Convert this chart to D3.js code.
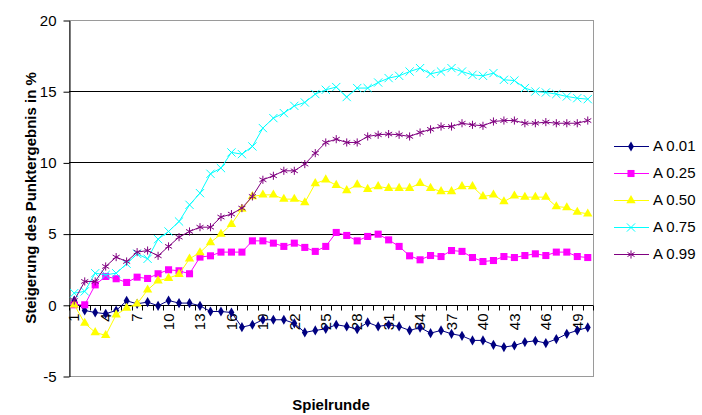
<!DOCTYPE html>
<html lang="de">
<head>
<meta charset="UTF-8">
<title>Spielrunde</title>
<script src="https://d3js.org/d3.v7.min.js"></script>
<style>
  body { margin: 0; background: #fff; }
  text { font-family: Arial, "Liberation Sans", sans-serif; }
</style>
</head>
<body>
<svg width="702" height="415"></svg>
<script>

// Spielrunden 1..50
var runden = d3.range(1, 51);
var xLabels = runden.filter(function (r) { return (r - 1) % 3 === 0; });
var yTicks = [-5, 0, 5, 10, 15, 20];

var namen = ["A 0.01", "A 0.25", "A 0.50", "A 0.75", "A 0.99"];

var a001 = [0.3, -0.4, -0.54, -0.63, -0.4, 0.28, 0.07, 0.19, -0.07, 0.3,
            0.12, 0.12, -0.07, -0.47, -0.47, -0.54, -1.57, -1.4, -1.05, -1.05,
            -1.05, -1.3, -1.94, -1.8, -1.69, -1.4, -1.52, -1.71, -1.24, -1.52,
            -1.4, -1.52, -1.8, -1.6, -1.99, -1.8, -2.04, -2.18, -2.5, -2.5,
            -2.81, -2.97, -2.86, -2.62, -2.53, -2.69, -2.41, -2.04, -1.8, -1.59];
var a025 = [0, 0, 1.4, 1.99, 1.83, 1.57, 1.94, 1.85, 2.18, 2.46,
            2.39, 2.18, 3.35, 3.44, 3.7, 3.7, 3.7, 4.49, 4.49, 4.33,
            4.1, 4.33, 4.03, 3.75, 4.1, 5.08, 4.87, 4.49, 4.8, 4.96,
            4.56, 4.1, 3.44, 3.16, 3.46, 3.39, 3.81, 3.75, 3.32, 3.04,
            3.11, 3.39, 3.32, 3.46, 3.58, 3.46, 3.7, 3.7, 3.39, 3.32];
var a050 = [0, -1.29, -1.94, -2.15, -0.7, -0.23, 0.07, 1.05, 1.69, 1.87,
            2.15, 3.23, 3.67, 4.38, 4.96, 5.66, 6.72, 7.61, 7.72, 7.72,
            7.42, 7.42, 7.18, 8.52, 8.78, 8.4, 8.03, 8.43, 8.12, 8.31,
            8.19, 8.19, 8.19, 8.54, 8.19, 7.96, 7.96, 8.31, 8.31, 7.61,
            7.72, 7.25, 7.65, 7.56, 7.56, 7.56, 6.9, 6.83, 6.51, 6.39];
var a075 = [0.82, 0.94, 2.22, 2.1, 2.22, 2.88, 3.58, 3.23, 4.61, 5.15,
            5.85, 7.02, 7.84, 9.2, 9.6, 10.7, 10.58, 11.12, 12.41, 13.11,
            13.46, 13.97, 14.21, 14.8, 15.1, 15.29, 14.59, 15.22, 15.22, 15.61,
            15.92, 16.08, 16.38, 16.62, 16.22, 16.38, 16.62, 16.38, 16.15, 16.08,
            16.27, 15.8, 15.75, 15.22, 14.98, 14.91, 14.8, 14.63, 14.51, 14.44];
var a099 = [0.3, 1.64, 1.64, 2.69, 3.35, 3.04, 3.7, 3.81, 3.44, 4.1,
            4.75, 5.15, 5.45, 5.45, 6.16, 6.37, 6.79, 7.61, 8.78, 9.06,
            9.41, 9.41, 9.88, 10.65, 11.4, 11.63, 11.4, 11.4, 11.82, 11.94,
            11.99, 11.94, 11.82, 12.1, 12.32, 12.52, 12.52, 12.75, 12.64, 12.57,
            12.87, 12.94, 12.94, 12.75, 12.75, 12.83, 12.75, 12.75, 12.75, 12.94];

var reihen = [a001, a025, a050, a075, a099];
var farben = ["#000080", "#ff00ff", "#ffff00", "#00ffff", "#800080"];

var svg = d3.select('svg');
var pLeft = 69, pRight = 593, pTop = 20, pBottom = 376;

var x = d3.scaleBand().domain(runden).range([pLeft, pRight]).paddingInner(0).paddingOuter(0);
var y = d3.scaleLinear().domain([-5, 20]).range([pBottom, pTop]);
var cx = function (r) { return x(r) + x.bandwidth() / 2; };

// Rahmen der Zeichenfläche
svg.append('rect')
  .attr('x', pLeft + 0.5).attr('y', pTop + 0.5)
  .attr('width', pRight - pLeft).attr('height', pBottom - pTop)
  .attr('fill', 'none').attr('stroke', '#9a9a9a');

// Gitternetzlinien
svg.append('g').selectAll('line')
  .data([5, 10, 15])
  .enter().append('line')
  .attr('x1', pLeft).attr('x2', pRight)
  .attr('y1', function (d) { return Math.round(y(d)) + 0.5; })
  .attr('y2', function (d) { return Math.round(y(d)) + 0.5; })
  .attr('stroke', '#000');

// y-Achse (Bindestrich statt Minuszeichen wie im Original)
var yAxis = svg.append('g')
  .attr('transform', 'translate(' + (pLeft + 0.5) + ',0.5)')
  .call(d3.axisLeft(y).tickValues(yTicks).tickSize(6).tickPadding(7).tickSizeOuter(0)
    .tickFormat(function (d) { return String(d); }));
yAxis.select('.domain').attr('stroke', '#000');
yAxis.selectAll('text').attr('font-size', 15).attr('fill', '#000');

// x-Achse bei 0
var y0 = Math.round(y(0)) + 0.5;
var xAchse = svg.append('g');
xAchse.append('line')
  .attr('x1', pLeft).attr('x2', pRight).attr('y1', y0).attr('y2', y0)
  .attr('stroke', '#000');
xAchse.selectAll('line.tick')
  .data(runden.concat([51]))
  .enter().append('line')
  .attr('class', 'tick')
  .attr('x1', function (r) { return Math.round(r <= 50 ? x(r) : pRight) + 0.5; })
  .attr('x2', function (r) { return Math.round(r <= 50 ? x(r) : pRight) + 0.5; })
  .attr('y1', y0).attr('y2', y0 + 5)
  .attr('stroke', '#000');
xAchse.selectAll('text')
  .data(xLabels)
  .enter().append('text')
  .attr('transform', function (r) { return 'translate(' + cx(r) + ',' + (y0 + 8) + ') rotate(-90)'; })
  .attr('text-anchor', 'end')
  .attr('dy', '0.35em')
  .attr('font-size', 15)
  .text(function (r) { return r; });

// Symbole
var formen = [
  d3.symbol().type(d3.symbolDiamond).size(30),
  d3.symbol().type(d3.symbolSquare).size(50),
  d3.symbol().type(d3.symbolTriangle).size(38),
  d3.symbol().type(d3.symbolTimes).size(46),
  d3.symbol().type(d3.symbolAsterisk).size(46)
];
var gefuellt = [true, true, true, false, false];

var linie = d3.line()
  .x(function (d, i) { return cx(runden[i]); })
  .y(function (d) { return y(d); });

reihen.forEach(function (werte, k) {
  var g = svg.append('g');
  g.append('path')
    .attr('d', linie(werte))
    .attr('fill', 'none')
    .attr('stroke', farben[k])
    .attr('stroke-width', 1);
  g.selectAll('path.m')
    .data(werte)
    .enter().append('path')
    .attr('class', 'm')
    .attr('transform', function (d, i) { return 'translate(' + cx(runden[i]) + ',' + y(d) + ')'; })
    .attr('d', formen[k])
    .attr('fill', gefuellt[k] ? farben[k] : 'none')
    .attr('stroke', gefuellt[k] ? 'none' : farben[k])
    .attr('stroke-width', 1);
});

// Legende
var legende = svg.append('g').attr('transform', 'translate(614,146)');
namen.forEach(function (n, k) {
  var row = legende.append('g').attr('transform', 'translate(0,' + (k * 27) + ')');
  row.append('line').attr('x1', 0).attr('x2', 35).attr('y1', 0.5).attr('y2', 0.5)
    .attr('stroke', farben[k]);
  row.append('path')
    .attr('transform', 'translate(17,0.5)')
    .attr('d', formen[k])
    .attr('fill', gefuellt[k] ? farben[k] : 'none')
    .attr('stroke', gefuellt[k] ? 'none' : farben[k]);
  row.append('text').attr('x', 39).attr('dy', '0.35em').attr('font-size', 15).text(n);
});

// Achsentitel
svg.append('text')
  .attr('transform', 'translate(31,' + ((pTop + pBottom) / 2) + ') rotate(-90)')
  .attr('text-anchor', 'middle').attr('dy', '0.35em')
  .attr('font-size', 15).attr('font-weight', 'bold')
  .text('Steigerung des Punktergebnis in %');
svg.append('text')
  .attr('x', (pLeft + pRight) / 2).attr('y', 405)
  .attr('text-anchor', 'middle').attr('dy', '0.35em')
  .attr('font-size', 15).attr('font-weight', 'bold')
  .text('Spielrunde');

</script>
</body>
</html>
